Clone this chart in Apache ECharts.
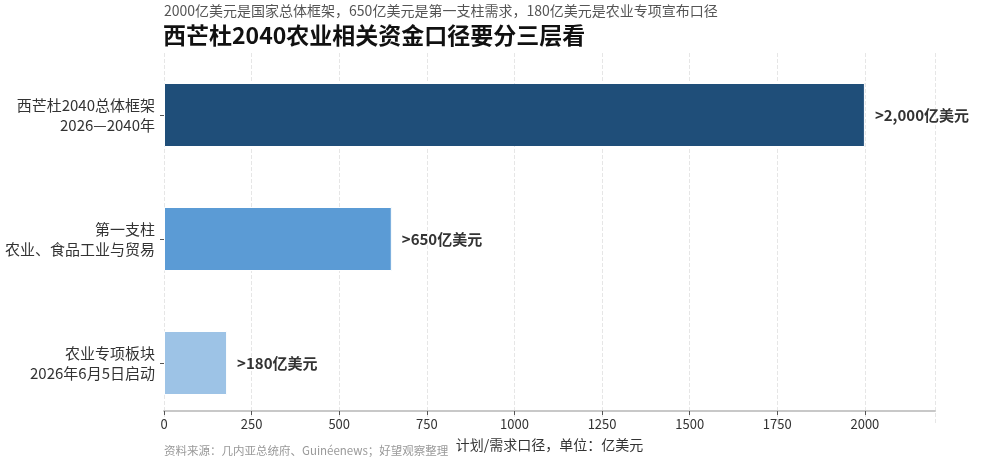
<!DOCTYPE html>
<html>
<head>
<meta charset="utf-8">
<script src="https://cdn.jsdelivr.net/npm/echarts@6/dist/echarts.min.js"></script>
<style>
  html, body { margin: 0; padding: 0; background: #fff; }
  #main { width: 981px; height: 465px; }
</style>
</head>
<body>
<div id="main"></div>
<script>
// data, bottom to top
var categories = ['农业专项板块\n2026年6月5日启动', '第一支柱\n农业、食品工业与贸易', '西芒杜2040总体框架\n2026—2040年'];
var values = [180, 650, 2000];
var valueLabels = ['>180亿美元', '>650亿美元', '>2,000亿美元'];
var barColors = ['#9dc3e6', '#5b9bd5', '#1f4e79'];

var font = '"Noto Sans CJK SC", "Noto Sans", sans-serif';

window.onload = function () {
    var myChart = echarts.init(document.getElementById('main'));
    var option = {
        textStyle: { fontFamily: font },
        title: [
            {
                text: '西芒杜2040农业相关资金口径要分三层看',
                left: 163, top: 24, padding: 0,
                textStyle: { fontSize: 23, fontWeight: 'bold', color: '#111', fontFamily: font }
            },
            {
                text: '2000亿美元是国家总体框架，650亿美元是第一支柱需求，180亿美元是农业专项宣布口径',
                left: 164, top: 4, padding: 0,
                textStyle: { fontSize: 14, fontWeight: 'normal', color: '#555', fontFamily: font }
            },
            {
                text: '资料来源：几内亚总统府、Guinéenews；好望观察整理',
                left: 164, top: 445, padding: 0,
                textStyle: { fontSize: 11.5, fontWeight: 'normal', color: '#999', fontFamily: font }
            }
        ],
        grid: {
            left: 164,
            right: 46,
            top: 53,
            bottom: 40,
            containLabel: false
        },
        xAxis: {
            type: 'value',
            min: 0,
            max: 2200,
            interval: 250,
            offset: -14,
            name: '计划/需求口径，单位：亿美元',
            nameLocation: 'middle',
            nameGap: 27,
            nameTextStyle: { fontSize: 14, color: '#333', fontFamily: font },
            axisLine: { show: true, lineStyle: { color: '#c8c8c8', width: 2 } },
            axisTick: { show: true, length: 4, lineStyle: { color: '#555' } },
            axisLabel: {
                fontSize: 13, color: '#333', showMaxLabel: false, margin: 7,
                formatter: function (v) { return String(v); }
            },
            splitLine: { show: true, lineStyle: { type: 'dashed', color: '#e6e6e6' } }
        },
        yAxis: {
            type: 'category',
            data: categories,
            axisLine: { show: false },
            axisTick: { show: true, length: 4, alignWithLabel: true, lineStyle: { color: '#555' } },
            axisLabel: { fontSize: 15, color: '#333', lineHeight: 20, margin: 9 },
            splitLine: { show: false }
        },
        series: [
            {
                type: 'bar',
                barWidth: 64,
                data: values.map(function (v, i) {
                    return { value: v, itemStyle: { color: barColors[i], borderColor: '#fff', borderWidth: 1 } };
                }),
                label: {
                    show: true,
                    position: 'right',
                    distance: 10,
                    fontSize: 15,
                    fontWeight: 'bold',
                    color: '#333',
                    formatter: function (p) { return valueLabels[p.dataIndex]; }
                },
                silent: true
            }
        ],
        animation: false
    };
    myChart.setOption(option);
};
</script>
</body>
</html>
